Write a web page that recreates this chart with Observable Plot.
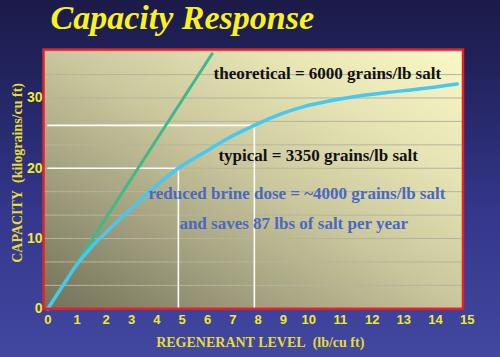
<!DOCTYPE html>
<html>
<head>
<meta charset="utf-8">
<script src="https://cdn.jsdelivr.net/npm/d3@7"></script>
<script src="https://cdn.jsdelivr.net/npm/@observablehq/plot@0.6"></script>
<style>
  html, body { margin: 0; padding: 0; width: 500px; height: 357px; overflow: hidden; background: #23245e; }
</style>
</head>
<body>
<div id="chart"></div>
<script>
// ---- data ----
const xTicks = [0,1,2,3,4,5,6,7,8,9,10,11,12,13,14,15];
const yTicks = [0,10,20,30];
const gridY = [3.33, 6.67, 10, 13.33, 16.67, 20, 23.33, 26.67, 30, 33.33, 36.67];

// typical capacity curve (3350 grains/lb salt)
const typicalX = [0, 0.5, 1, 1.5, 2, 3, 4, 4.85, 5.85, 6.78, 7.85, 8.88, 9.8, 10.68, 11.53, 12.47, 13.53, 14.69];
const typicalY = [0, 3.2, 6.3, 8.8, 10.9, 14.3, 17.6, 20.0, 22.2, 24.2, 26.1, 27.7, 28.77, 29.6, 30.25, 30.78, 31.3, 32.0];

// theoretical line (6000 grains/lb salt)
const theoX = [0, 1, 2, 6.18];
const theoY = [0, 6.5, 13.0, 36.3];

// reference (drop) lines: regenerant level -> capacity
const refX = [4.85, 7.85];
const refY = [20, 26.1];

// annotations
const noteText = ["theoretical = 6000 grains/lb salt", "typical = 3350 grains/lb salt",
                  "reduced brine dose = ~4000 grains/lb salt", "and saves 87 lbs of salt per year"];
const noteX = [6.24, 6.43, 3.67, 4.89];
const noteY = [33.5, 21.8, 16.4, 12.1];
const noteColor = ["#111111", "#111111", "#4a68c2", "#4a68c2"];

const titleText = "Capacity Response";
const xLabel = "REGENERANT LEVEL\u00a0\u00a0(lb/cu ft)";
const yLabel = "CAPACITY\u00a0\u00a0(kilograins/cu ft)";

// ---- build tables ----
const typical = typicalX.map((x, i) => ({x, y: typicalY[i]}));
const theo = theoX.map((x, i) => ({x, y: theoY[i]}));
const refs = refX.map((x, i) => ({x, y: refY[i]}));
const notes = noteText.map((t, i) => ({t, x: noteX[i], y: noteY[i], c: noteColor[i]}));

const yellow = "#f2ea2a";
const serif = "'Liberation Serif', 'Times New Roman', serif";
const sans = "'Liberation Sans', Arial, sans-serif";

const chart = Plot.plot({
  width: 500,
  height: 357,
  marginLeft: 43,
  marginRight: 37.5,
  marginTop: 49,
  marginBottom: 48.7,
  style: {background: "linear-gradient(180deg, #1b1a48 0%, #262869 30%, #34378c 60%, #4247a0 100%)", overflow: "visible"},
  x: {type: "linear", domain: [0, 2, 10, 15], range: [47.3, 105.7, 308.3, 466.7]},
  y: {domain: [0, 36.9]},
  marks: [
    Plot.frame({fill: "url(#plotbg)", stroke: "none"}),
    Plot.ruleY(gridY, {stroke: "#b6b49c", strokeWidth: 1}),
    Plot.ruleY(refs, {y: "y", x2: "x", stroke: "white", strokeWidth: 1.6}),
    Plot.ruleX(refs, {x: "x", y1: "y", stroke: "white", strokeWidth: 1.6}),
    Plot.line(theo, {x: "x", y: "y", stroke: "#3dba8a", strokeWidth: 3, strokeLinecap: "round"}),
    Plot.line(typical, {x: "x", y: "y", stroke: "#45c8f2", strokeWidth: 3.5, curve: "catmull-rom", strokeLinecap: "round"}),
    Plot.text(notes, {x: "x", y: "y", text: "t", fill: "c", textAnchor: "start", lineAnchor: "middle",
      fontFamily: serif, fontWeight: "bold", fontSize: 17}),
    Plot.frame({stroke: "#e42129", strokeWidth: 2.5}),
    Plot.axisX({ticks: xTicks, tickSize: 0, tickPadding: 6, label: null, fill: yellow,
      fontFamily: sans, fontWeight: "bold", fontSize: 13, tickFormat: d => String(d)}),
    Plot.axisY({ticks: yTicks, tickSize: 0, tickPadding: 1, label: null, fill: yellow,
      fontFamily: sans, fontWeight: "bold", fontSize: 14, tickFormat: d => String(d)}),
    Plot.text([xLabel], {frameAnchor: "bottom", dx: 7, dy: 33.7, textAnchor: "middle", lineAnchor: "middle", fill: "#e6dc34",
      fontFamily: serif, fontWeight: "bold", fontSize: 14}),
    Plot.text([yLabel], {frameAnchor: "left", rotate: -90, dx: -26.3, dy: -6.2, textAnchor: "middle", lineAnchor: "middle", fill: "#e6dc34",
      fontFamily: serif, fontWeight: "bold", fontSize: 14}),
    Plot.text([titleText], {frameAnchor: "top-left", dx: 7, dy: -20.5, textAnchor: "start", lineAnchor: "bottom",
      fill: "#f8f21e", fontFamily: serif, fontWeight: "bold", fontStyle: "italic", fontSize: 34})
  ]
});

// gradient for the plotting area
const svg = d3.select(chart);
const grad = svg.insert("defs", ":first-child").append("linearGradient")
  .attr("id", "plotbg").attr("x1", 0).attr("y1", 1).attr("x2", 1).attr("y2", 0);
[[0, "#737157"], [0.25, "#9e9c7c"], [0.5, "#c9c69c"], [0.75, "#e6e3b4"], [1, "#fbf8c8"]]
  .forEach(([o, c]) => grad.append("stop").attr("offset", o).attr("stop-color", c));

document.getElementById("chart").appendChild(chart);
</script>
</body>
</html>
